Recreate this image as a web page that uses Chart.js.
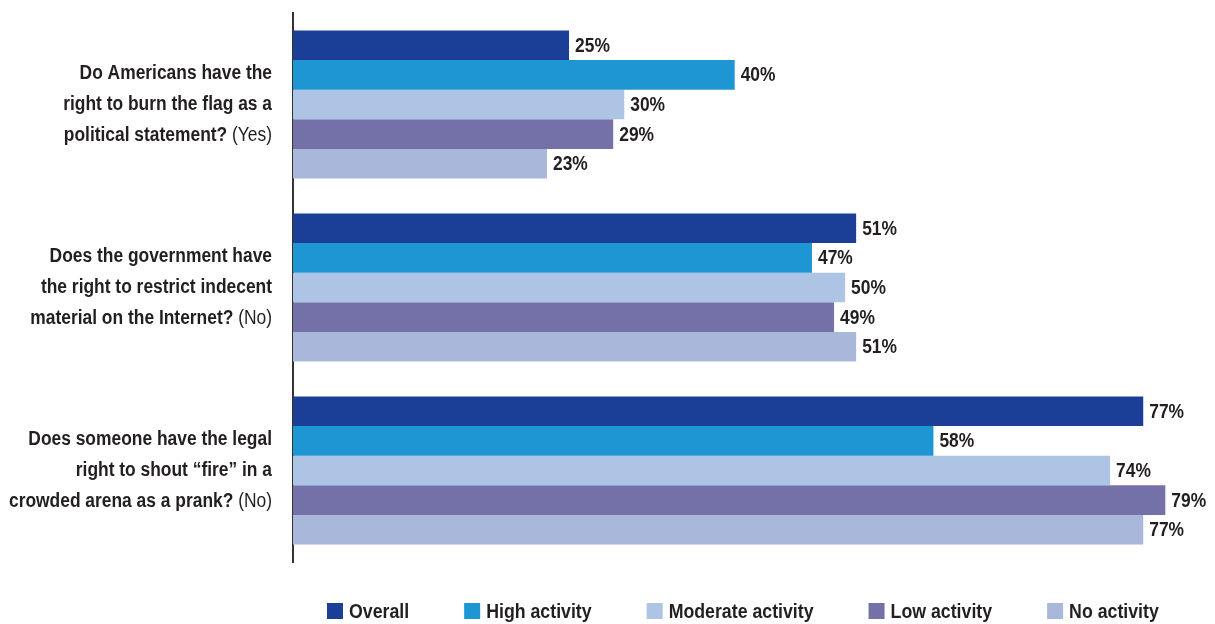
<!DOCTYPE html>
<html>
<head>
<meta charset="utf-8">
<script src="https://cdn.jsdelivr.net/npm/chart.js@4"></script>
<style>
  body { margin: 0; background: #fff; }
  .chart-box { position: relative; width: 1215px; height: 624px; }
</style>
</head>
<body>
<div class="chart-box"><canvas id="surveyChart"></canvas></div>
<script>
const FONT = '"Liberation Sans", Arial, sans-serif';
const NARROW = 0.87;   // horizontal squeeze for a condensed look
const TEXT_COLOR = '#231f20';

const questions = [
    ['Do Americans have the', 'right to burn the flag as a', 'political statement?'],
    ['Does the government have', 'the right to restrict indecent', 'material on the Internet?'],
    ['Does someone have the legal', 'right to shout \u201cfire\u201d in a', 'crowded arena as a prank?']
];
const answers = ['(Yes)', '(No)', '(No)'];

const seriesNames = ['Overall', 'High activity', 'Moderate activity', 'Low activity', 'No activity'];
const seriesColors = ['#1b3f96', '#1d96d3', '#adc4e5', '#7371a8', '#a9b7da'];

const overall = [25, 51, 77];
const highActivity = [40, 47, 58];
const moderateActivity = [30, 50, 74];
const lowActivity = [29, 49, 79];
const noActivity = [23, 51, 77];

const seriesValues = [overall, highActivity, moderateActivity, lowActivity, noActivity];

const datasets = seriesNames.map((name, i) => ({
    label: name,
    data: seriesValues[i],
    backgroundColor: seriesColors[i],
    borderWidth: 0,
    categoryPercentage: 0.81,
    barPercentage: 1.0
}));

function narrowText(ctx, text, x, y, align) {
    ctx.save();
    ctx.translate(x, y);
    ctx.scale(NARROW, 1);
    ctx.textAlign = align;
    ctx.fillText(text, 0, 0);
    ctx.restore();
}

// question text on the left, last line ends with a regular-weight answer
const questionLabels = {
    id: 'questionLabels',
    afterDraw(chart) {
        const ctx = chart.ctx;
        const yScale = chart.scales.y;
        const right = yScale.right - 21;
        const lineH = 31;
        ctx.save();
        ctx.fillStyle = TEXT_COLOR;
        ctx.textBaseline = 'middle';
        questions.forEach((lines, i) => {
            const cy = yScale.getPixelForValue(i);
            lines.forEach((line, j) => {
                const y = cy + (j - (lines.length - 1) / 2) * lineH;
                if (j === lines.length - 1) {
                    ctx.font = '20px ' + FONT;
                    const tail = ' ' + answers[i];
                    narrowText(ctx, tail, right, y, 'right');
                    const w = ctx.measureText(tail).width * NARROW;
                    ctx.font = 'bold 20px ' + FONT;
                    narrowText(ctx, line, right - w, y, 'right');
                } else {
                    ctx.font = 'bold 20px ' + FONT;
                    narrowText(ctx, line, right, y, 'right');
                }
            });
        });
        ctx.restore();
    }
};

// percentage after each bar
const valueLabels = {
    id: 'valueLabels',
    afterDatasetsDraw(chart) {
        const ctx = chart.ctx;
        ctx.save();
        ctx.font = 'bold 20px ' + FONT;
        ctx.fillStyle = TEXT_COLOR;
        ctx.textBaseline = 'middle';
        chart.data.datasets.forEach((ds, i) => {
            chart.getDatasetMeta(i).data.forEach((bar, j) => {
                narrowText(ctx, ds.data[j] + '%', bar.x + 6, bar.y + 1, 'left');
            });
        });
        ctx.restore();
    }
};

// legend row along the bottom
const bottomLegend = {
    id: 'bottomLegend',
    afterDraw(chart) {
        const ctx = chart.ctx;
        const y = 611;
        let x = 327;
        ctx.save();
        ctx.font = 'bold 20.4px ' + FONT;
        ctx.textBaseline = 'middle';
        chart.data.datasets.forEach(ds => {
            ctx.fillStyle = ds.backgroundColor;
            ctx.fillRect(x, y - 8, 16, 16);
            x += 22;
            ctx.fillStyle = TEXT_COLOR;
            narrowText(ctx, ds.label, x, y + 1, 'left');
            x += ctx.measureText(ds.label).width * NARROW + 55;
        });
        ctx.restore();
    }
};

new Chart(document.getElementById('surveyChart'), {
    type: 'bar',
    data: {
        labels: questions.map(q => q.join(' ')),
        datasets: datasets
    },
    options: {
        indexAxis: 'y',
        responsive: true,
        maintainAspectRatio: false,
        animation: false,
        layout: { padding: { top: 13, bottom: 62, left: 0, right: 0 } },
        scales: {
            x: {
                display: false,
                min: 0,
                max: 83.5
            },
            y: {
                grid: { display: false },
                border: { display: true, color: '#333333', width: 2 },
                ticks: { display: false },
                afterFit(scale) { scale.width = 293; }
            }
        },
        plugins: {
            legend: { display: false },
            tooltip: { enabled: false }
        }
    },
    plugins: [questionLabels, valueLabels, bottomLegend]
});
</script>
</body>
</html>
